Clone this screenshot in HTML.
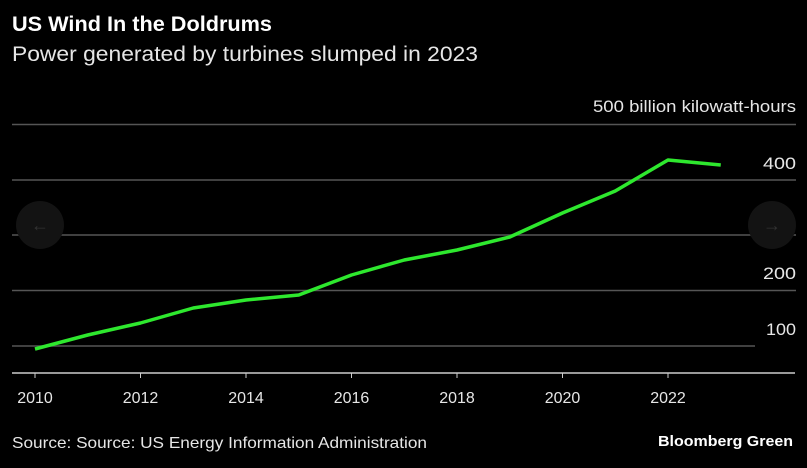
<!DOCTYPE html>
<html><head><meta charset="utf-8"><style>
body{margin:0;background:#000;width:807px;height:468px;overflow:hidden;font-family:"Liberation Sans",sans-serif;}
</style></head><body>
<svg width="807" height="468" xmlns="http://www.w3.org/2000/svg" style="position:absolute;left:0;top:0">
<rect width="807" height="468" fill="#000"/>
<text x="12" y="31" fill="#fff" font-size="21" font-weight="bold" textLength="260" lengthAdjust="spacingAndGlyphs">US Wind In the Doldrums</text>
<text x="12" y="61" fill="#e6e6e6" font-size="21" textLength="466" lengthAdjust="spacingAndGlyphs">Power generated by turbines slumped in 2023</text>
<text x="796" y="112" fill="#e6e6e6" font-size="17" text-anchor="end" textLength="203" lengthAdjust="spacingAndGlyphs">500 billion kilowatt-hours</text>
<g stroke="#555" stroke-width="1.5">
<line x1="12" y1="124.5" x2="796" y2="124.5"/>
<line x1="12" y1="180" x2="796" y2="180"/>
<line x1="12" y1="235" x2="796" y2="235"/>
<line x1="12" y1="290.5" x2="796" y2="290.5"/>
<line x1="12" y1="346" x2="755" y2="346"/>
</g>
<line x1="12" y1="373" x2="795" y2="373" stroke="#ccc" stroke-width="1.5"/>
<g fill="#e6e6e6" font-size="17" text-anchor="end">
<text x="796" y="169" textLength="33" lengthAdjust="spacingAndGlyphs">400</text>
<text x="796" y="279" textLength="33" lengthAdjust="spacingAndGlyphs">200</text>
<text x="796" y="335" textLength="30" lengthAdjust="spacingAndGlyphs">100</text>
</g>
<g stroke="#ccc" stroke-width="1">
<line x1="35" y1="373" x2="35" y2="378"/><line x1="140.5" y1="373" x2="140.5" y2="378"/>
<line x1="246" y1="373" x2="246" y2="378"/><line x1="351.5" y1="373" x2="351.5" y2="378"/>
<line x1="457" y1="373" x2="457" y2="378"/><line x1="562.5" y1="373" x2="562.5" y2="378"/>
<line x1="668" y1="373" x2="668" y2="378"/>
</g>
<g fill="#e6e6e6" font-size="16" text-anchor="middle">
<text x="35" y="403">2010</text><text x="140.5" y="403">2012</text><text x="246" y="403">2014</text>
<text x="351.5" y="403">2016</text><text x="457" y="403">2018</text><text x="562.5" y="403">2020</text>
<text x="668" y="403">2022</text>
</g>
<polyline fill="none" stroke="#2ee82e" stroke-width="3.5" stroke-linejoin="round" points="35,349 87.75,335 140.5,323 193.25,308 246,300 298.75,295 351.5,275 404.25,260 457,250 509.75,237 562.5,213 615.25,191 668,160 720.75,165"/>
<circle cx="40" cy="225" r="24" fill="#131313"/>
<text x="40" y="231" fill="#333" font-size="18" text-anchor="middle">←</text>
<circle cx="772" cy="225" r="24" fill="#131313"/>
<text x="772" y="231" fill="#333" font-size="18" text-anchor="middle">→</text>
<text x="12" y="448" fill="#e6e6e6" font-size="16" textLength="415" lengthAdjust="spacingAndGlyphs">Source: Source: US Energy Information Administration</text>
<text x="793" y="446" fill="#fff" font-size="15" font-weight="bold" text-anchor="end" textLength="135" lengthAdjust="spacingAndGlyphs">Bloomberg Green</text>
</svg>
</body></html>
